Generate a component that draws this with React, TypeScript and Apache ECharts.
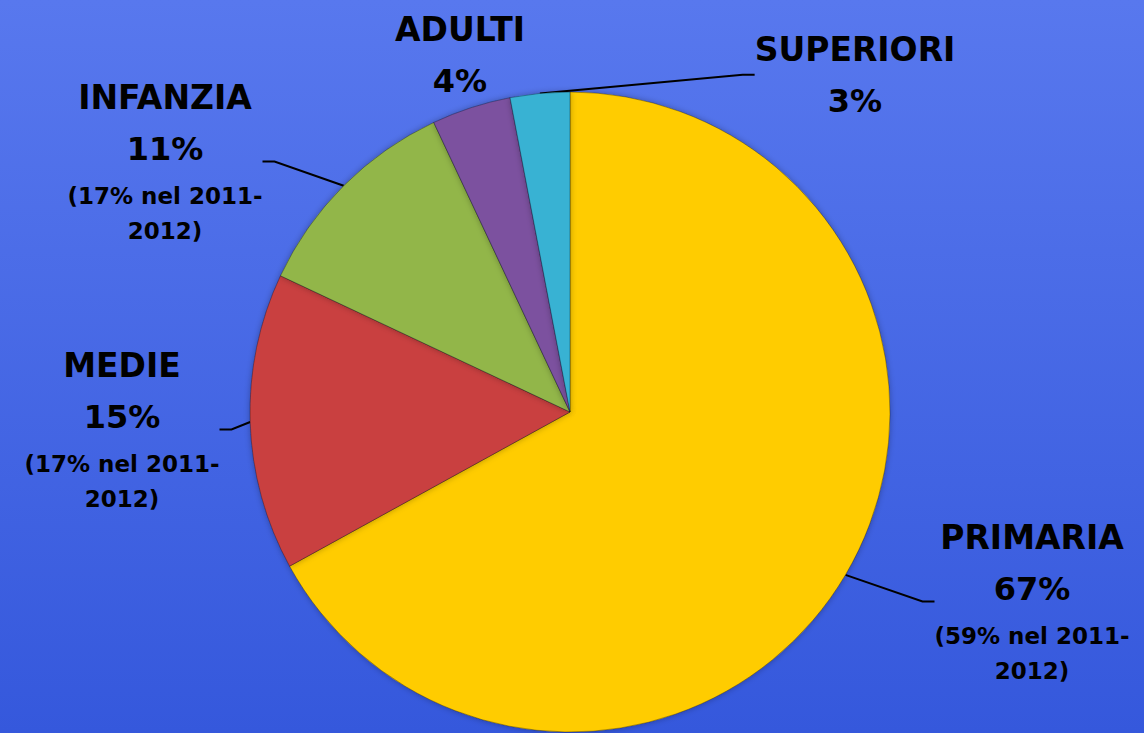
import React, { useEffect, useRef } from "react";
import * as echarts from "echarts";

const categories = ["PRIMARIA", "MEDIE", "INFANZIA", "ADULTI", "SUPERIORI"];
const values = [67, 15, 11, 4, 3];
const percentLabels = ["67%", "15%", "11%", "4%", "3%"];
const previousYearLines = [
  ["(59% nel 2011-", "2012)"],
  ["(17% nel 2011-", "2012)"],
  ["(17% nel 2011-", "2012)"],
  [],
  [],
];
const sliceColors = ["#FFCC00", "#C94141", "#92B648", "#7B519F", "#38B2D3"];
const showLeader = [true, true, true, false, true];

// label block centres (layout, not data)
const labelCentres: [number, number][] = [
  [1032, 602],
  [122, 430],
  [165, 162],
  [460, 59],
  [855, 79],
];

export default function App() {
  const ref = useRef<HTMLDivElement>(null);
  useEffect(() => {
    if (!ref.current) return;
    const chart = echarts.init(ref.current, undefined, { renderer: "svg" });
    const data = categories.map((name, i) => ({
      name,
      value: values[i],
      itemStyle: { color: sliceColors[i] },
      labelLine: { show: showLeader[i] },
    }));
    const font = "DejaVu Sans";
    chart.setOption({
      animation: false,
      backgroundColor: {
        type: "linear",
        x: 0,
        y: 0,
        x2: 0,
        y2: 1,
        colorStops: [
          { offset: 0, color: "#5878ee" },
          { offset: 1, color: "#3558dc" },
        ],
      },
      series: [
        {
          type: "pie",
          center: [570, 412],
          radius: 320,
          startAngle: 90,
          clockwise: true,
          data,
          itemStyle: {
            borderColor: "rgba(0,0,0,0.3)",
            borderWidth: 1,
            shadowBlur: 6,
            shadowColor: "rgba(0,0,0,0.3)",
          },
          label: {
            show: true,
            position: "outside",
            color: "#000",
            fontFamily: font,
            fontWeight: "bold",
            align: "center",
            formatter: (p: any) => {
              const i = p.dataIndex;
              const lines = [`{n|${categories[i]}}`, `{p|${percentLabels[i]}}`];
              previousYearLines[i].forEach((s) => lines.push(`{s|${s}}`));
              return lines.join("\n");
            },
            rich: {
              n: { fontSize: 33, fontWeight: "bold", fontFamily: font, color: "#000", lineHeight: 43, align: "center" },
              p: { fontSize: 32, fontWeight: "bold", fontFamily: font, color: "#000", lineHeight: 59, align: "center" },
              s: { fontSize: 23, fontWeight: "bold", fontFamily: font, color: "#000", lineHeight: 35, align: "center" },
            },
          },
          labelLine: {
            show: true,
            length: 20,
            length2: 12,
            lineStyle: { color: "#000", width: 2 },
          },
          labelLayout: (params: any) => {
            const c = labelCentres[params.dataIndex];
            return { x: c[0], y: c[1], align: "center", verticalAlign: "middle" };
          },
        },
      ],
    });
    return () => chart.dispose();
  }, []);
  return (
    <div
      ref={ref}
      style={{ position: "absolute", left: 0, top: 0, width: 1144, height: 733 }}
    />
  );
}
